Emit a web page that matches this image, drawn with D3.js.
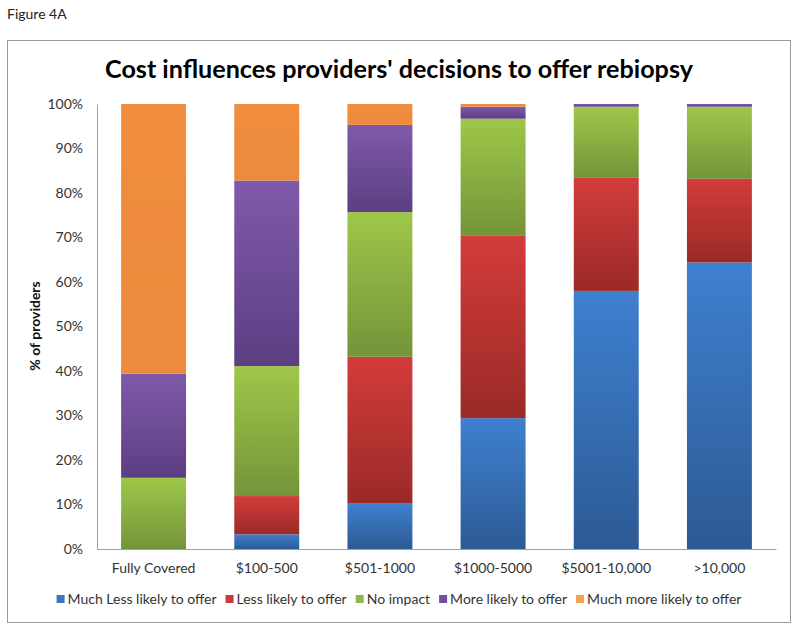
<!DOCTYPE html>
<html><head><meta charset="utf-8">
<script src="https://cdn.jsdelivr.net/npm/d3@7"></script>
<style>body{margin:0;background:#fff;} svg{display:block;}</style>
</head><body><svg id="c" width="800" height="631"></svg>
<script>
const categories = ["Fully Covered", "$100-500", "$501-1000", "$1000-5000", "$5001-10,000", ">10,000"];
const seriesNames = ["Much Less likely to offer", "Less likely to offer", "No impact", "More likely to offer", "Much more likely to offer"];
const muchLess = [0, 3.3, 10.2, 29.4, 58.0, 64.4];
const lessLikely = [0, 8.6, 33.0, 41.1, 25.4, 18.8];
const noImpact = [16.0, 29.2, 32.5, 26.2, 16.0, 16.2];
const moreLikely = [23.4, 41.7, 19.6, 2.7, 0.6, 0.6];
const muchMore = [60.6, 17.2, 4.7, 0.6, 0, 0];
const yTicks = [0, 10, 20, 30, 40, 50, 60, 70, 80, 90, 100];
const topColors = ["#3f80d0", "#d33c3b", "#9ec749", "#7f5aab", "#f08d3f"];
const bottomColors = ["#2c5a94", "#9a2a27", "#74943a", "#5c3e82", "#ec8a3d"];
const legendColors = ["#3c74c2", "#c63b3a", "#8fb845", "#6f4f9f", "#f7a050"];

const seriesValues = [muchLess, lessLikely, noImpact, moreLikely, muchMore];
const svg = d3.select("#c");
const font = "Lato, 'Open Sans', sans-serif";

// frame
svg.append("rect").attr("x", 7.5).attr("y", 40.5).attr("width", 783).attr("height", 582)
  .attr("fill", "#fff").attr("stroke", "#9a9a9a").attr("stroke-width", 1);

svg.append("text").attr("x", 7).attr("y", 19).attr("font-family", font).attr("font-size", 14)
  .attr("fill", "#222").text("Figure 4A");

const title = svg.append("text").attr("x", 399).attr("y", 78).attr("text-anchor", "middle")
  .attr("font-family", font).attr("font-weight", "bold").attr("font-size", 28).attr("fill", "#000")
  .text("Cost influences providers' decisions to offer rebiopsy");
{ const w = title.node().getComputedTextLength(); title.attr("font-size", 28 * 588 / w); }

const x = d3.scaleBand().domain(categories).range([97, 776]).paddingInner(0.426).paddingOuter(0.213);
const y = d3.scaleLinear().domain([0, 100]).range([549, 104]);

const defs = svg.append("defs");
seriesNames.forEach((s, i) => {
  const g = defs.append("linearGradient").attr("id", "g" + i).attr("x1", 0).attr("y1", 0).attr("x2", 0).attr("y2", 1);
  g.append("stop").attr("offset", "0%").attr("stop-color", topColors[i]);
  g.append("stop").attr("offset", "100%").attr("stop-color", bottomColors[i]);
});

const rows = categories.map((c, j) => {
  const o = { cat: c };
  seriesNames.forEach((s, i) => o[s] = seriesValues[i][j]);
  return o;
});
const stacked = d3.stack().keys(seriesNames)(rows);

stacked.forEach((layer, i) => {
  svg.append("g").selectAll("rect").data(layer.filter(d => d[1] - d[0] > 0)).join("rect")
    .attr("x", d => x(d.data.cat))
    .attr("width", x.bandwidth())
    .attr("y", d => y(d[1]))
    .attr("height", d => y(d[0]) - y(d[1]))
    .attr("fill", "url(#g" + i + ")");
});

// axes
const yAxis = svg.append("g").attr("transform", "translate(97,0)")
  .call(d3.axisLeft(y).tickValues(yTicks).tickFormat(d => d + "%").tickSize(0).tickPadding(14));
yAxis.select(".domain").attr("stroke", "#a0a0a0");
yAxis.selectAll("text").attr("font-family", font).attr("font-size", 14).attr("fill", "#333");

const xAxis = svg.append("g").attr("transform", "translate(0,549)")
  .call(d3.axisBottom(x).tickSize(0).tickPadding(14));
xAxis.select(".domain").attr("stroke", "#a0a0a0");
xAxis.selectAll("text").attr("font-family", font).attr("font-size", 14).attr("fill", "#333");

svg.append("text").attr("transform", "translate(40,326) rotate(-90)").attr("text-anchor", "middle")
  .attr("font-family", font).attr("font-weight", "bold").attr("font-size", 14).attr("fill", "#111")
  .text("% of providers");

// legend
const leg = svg.append("g");
let cx = 0;
seriesNames.forEach((s, i) => {
  const g = leg.append("g").attr("transform", `translate(${cx},0)`);
  g.append("rect").attr("x", 0).attr("y", -9).attr("width", 8).attr("height", 8).attr("fill", legendColors[i]);
  const t = g.append("text").attr("x", 11).attr("y", 0).attr("font-family", font).attr("font-size", 14)
    .attr("fill", "#333").text(s);
  cx += 11 + t.node().getComputedTextLength() + 9;
});
const total = cx - 9;
leg.attr("transform", `translate(${399 - total / 2},604)`);
</script></body></html>
